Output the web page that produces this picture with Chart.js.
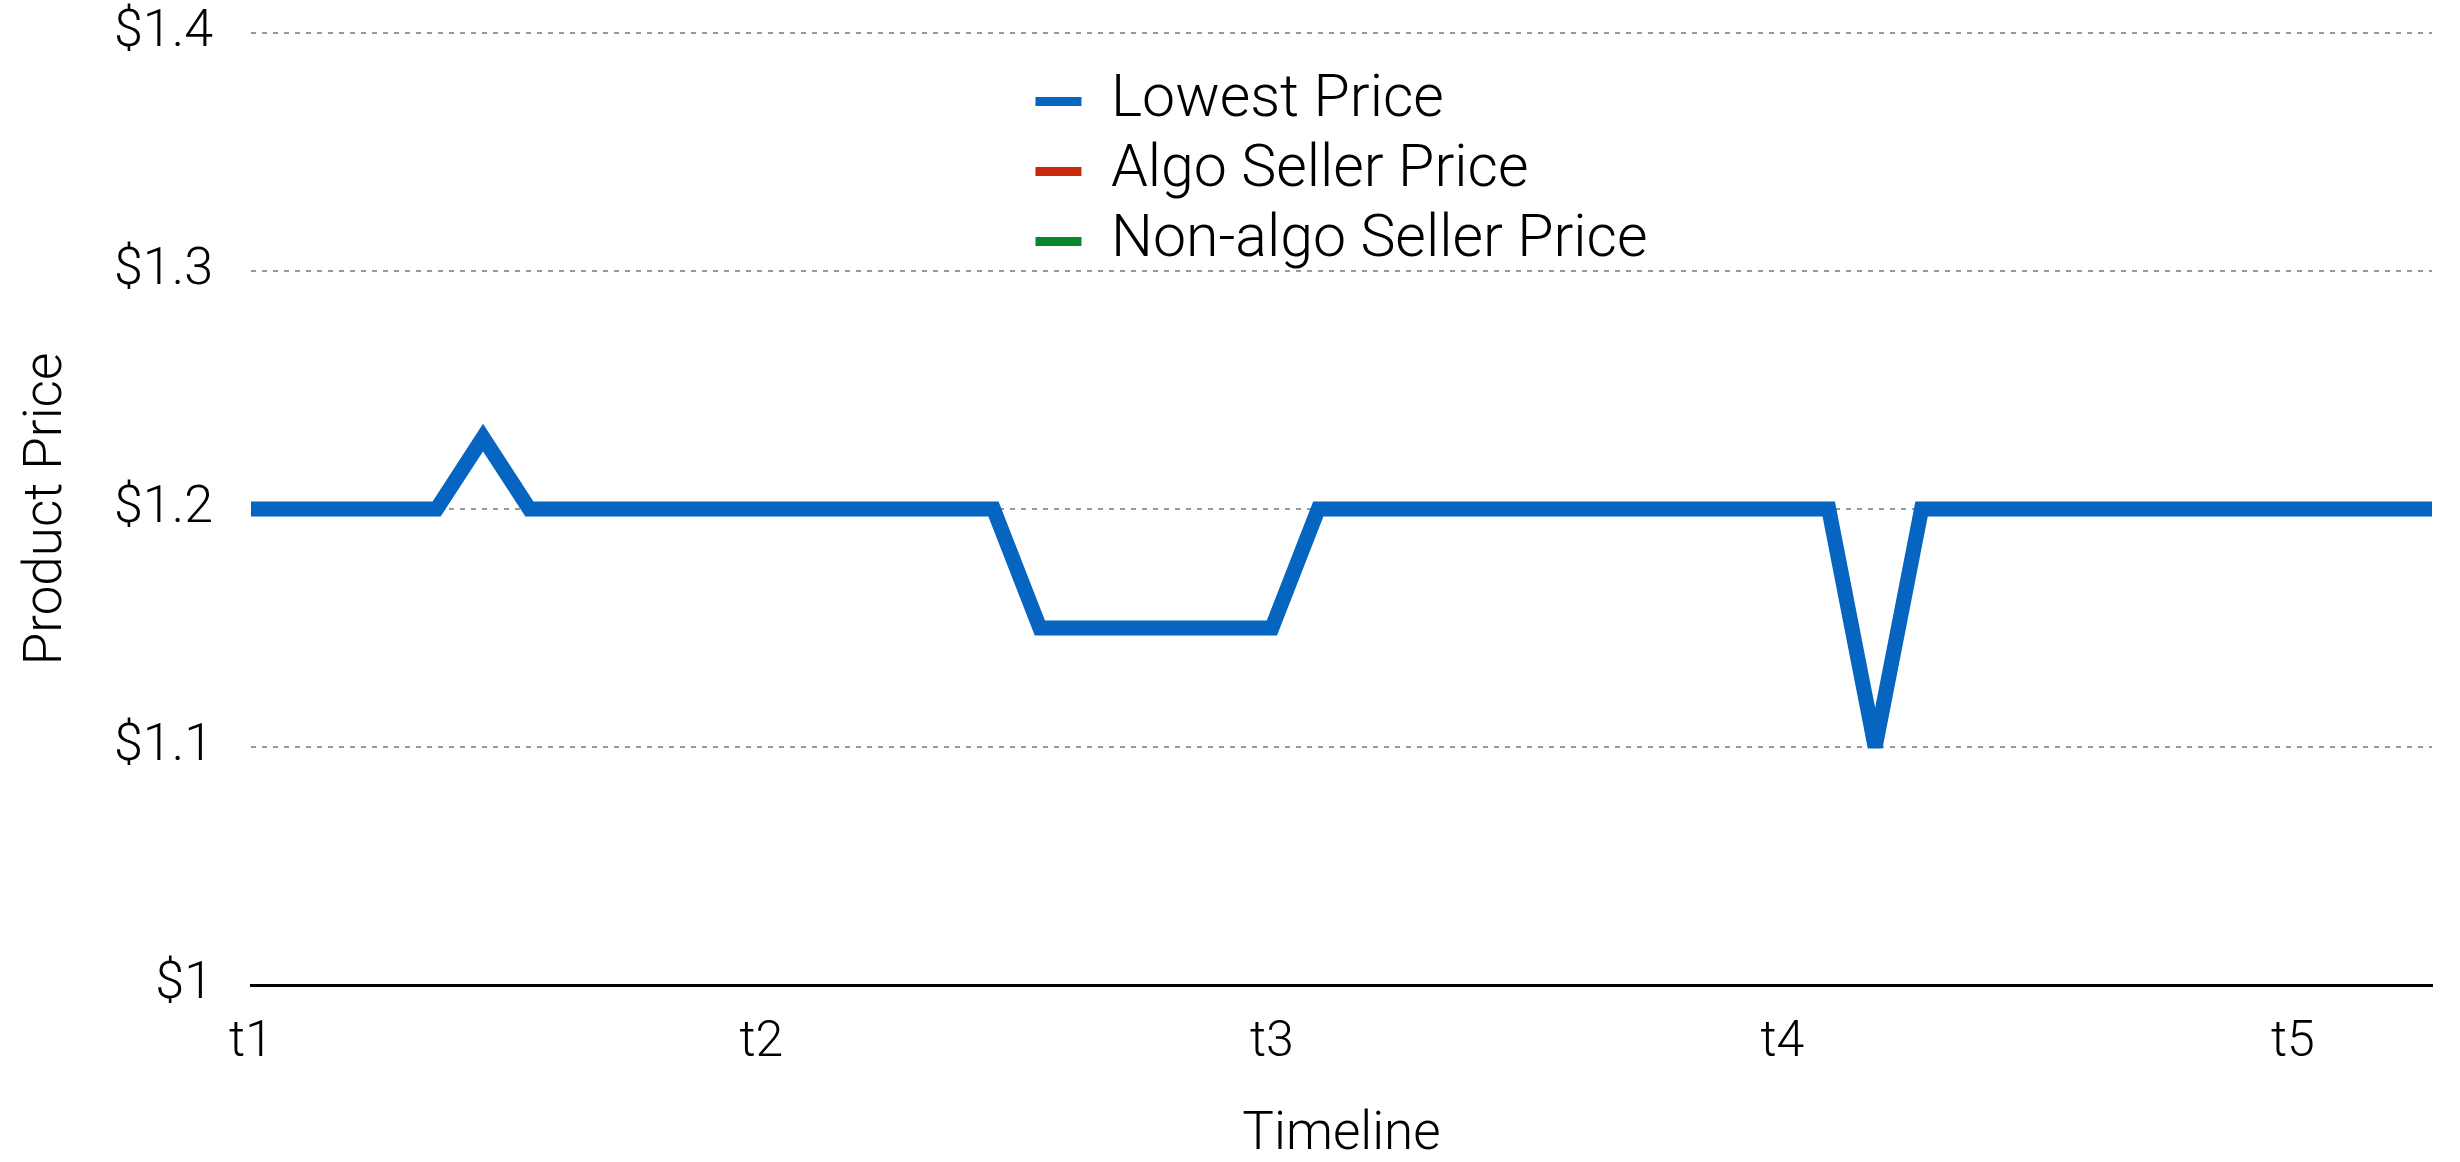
<!DOCTYPE html>
<html>
<head>
<meta charset="utf-8">
<script src="https://cdn.jsdelivr.net/npm/chart.js@4"></script>
<style>
  html, body { margin: 0; padding: 0; background: #fff; }
  #wrap { width: 2460px; height: 1162px; }
</style>
</head>
<body>
<div id="wrap"><canvas id="priceChart"></canvas></div>
<script>
// tick labels on the timeline, one every 11 steps
const tickLabels = ['t1', 't2', 't3', 't4', 't5'];
const stepsPerTick = 11;
const stepCount = 48;

// lowest price at each step
const lowestPrice = [
  1.2, 1.2, 1.2, 1.2, 1.2, 1.23, 1.2, 1.2, 1.2, 1.2, 1.2, 1.2,
  1.2, 1.2, 1.2, 1.2, 1.2, 1.15, 1.15, 1.15, 1.15, 1.15, 1.15, 1.2,
  1.2, 1.2, 1.2, 1.2, 1.2, 1.2, 1.2, 1.2, 1.2, 1.2, 1.2, 1.1,
  1.2, 1.2, 1.2, 1.2, 1.2, 1.2, 1.2, 1.2, 1.2, 1.2, 1.2, 1.2
];
// shown only in the legend
const algoSellerPrice = [];
const nonAlgoSellerPrice = [];

const seriesNames = ['Lowest Price', 'Algo Seller Price', 'Non-algo Seller Price'];
const seriesColors = ['#0565c0', '#c8290c', '#0a872e'];

const yTicks = [1, 1.1, 1.2, 1.3, 1.4];

const categories = [];
for (let i = 0; i < stepCount; i++) {
  categories.push(i % stepsPerTick === 0 ? tickLabels[i / stepsPerTick] : '');
}

const FONT = "Roboto, 'Liberation Sans', sans-serif";

// put the legend inside the plot, centred, items in one column
const legendInPlot = {
  id: 'legendInPlot',
  afterLayout(chart) {
    const lg = chart.legend;
    const ca = chart.chartArea;
    if (!lg || !lg.columnSizes || !lg.columnSizes.length) return;
    const pad = lg.options.labels.padding;
    const colW = lg.columnSizes[0].width;
    const dx = (ca.left + ca.right) / 2 - colW / 2 - pad - lg.left;
    lg.left += dx;
    lg.right += dx;
    lg.top = ca.top + 28;
  }
};

// sharp joins bevel like in the original (svg style miter limit)
const miterLimit = {
  id: 'miterLimit',
  beforeDatasetsDraw(chart) { chart.ctx.miterLimit = 4; },
  afterDatasetsDraw(chart) { chart.ctx.miterLimit = 10; }
};

const ctx = document.getElementById('priceChart').getContext('2d');

const priceChart = new Chart(ctx, {
  type: 'line',
  data: {
    labels: categories,
    datasets: [
      { label: seriesNames[0], data: lowestPrice, borderColor: seriesColors[0], backgroundColor: seriesColors[0] },
      { label: seriesNames[1], data: algoSellerPrice, borderColor: seriesColors[1], backgroundColor: seriesColors[1] },
      { label: seriesNames[2], data: nonAlgoSellerPrice, borderColor: seriesColors[2], backgroundColor: seriesColors[2] }
    ]
  },
  options: {
    responsive: true,
    maintainAspectRatio: false,
    animation: false,
    layout: { padding: { top: 33, right: 14, left: 0, bottom: 0 } },
    elements: {
      line: { borderWidth: 15, tension: 0, borderJoinStyle: 'miter', borderCapStyle: 'butt', fill: false },
      point: { radius: 0, hoverRadius: 0 }
    },
    plugins: {
      tooltip: { enabled: false },
      legend: {
        position: 'chartArea',
        align: 'start',
        labels: {
          color: '#000',
          font: { family: FONT, size: 59, weight: 300 },
          boxWidth: 46,
          boxHeight: 9,
          padding: 11,
          generateLabels(chart) {
            return chart.data.datasets.map((ds, i) => ({
              text: ds.label,
              fillStyle: seriesColors[i],
              strokeStyle: seriesColors[i],
              lineWidth: 0,
              fontColor: '#000',
              datasetIndex: i
            }));
          }
        }
      }
    },
    scales: {
      x: {
        grid: { display: false, drawTicks: false },
        border: { display: true, color: '#000', width: 3 },
        ticks: {
          autoSkip: false,
          maxRotation: 0,
          color: '#000',
          padding: 28,
          font: { family: FONT, size: 50, weight: 300 }
        },
        title: {
          display: true,
          text: 'Timeline',
          color: '#000',
          padding: 0,
          font: { family: FONT, size: 53, weight: 300, lineHeight: 1 }
        },
        afterFit(scale) { scale.height = 177; }
      },
      y: {
        min: 1,
        max: 1.4,
        afterBuildTicks(scale) { scale.ticks = yTicks.map(v => ({ value: v })); },
        grid: {
          drawTicks: false,
          color: '#999',
          lineWidth: 2
        },
        border: { display: false, dash: [5, 6] },
        ticks: {
          color: '#000',
          padding: 38,
          font: { family: FONT, size: 52, weight: 300 },
          callback(value) { return value === 1 ? '$1' : '$' + value.toFixed(1); }
        },
        title: {
          display: true,
          text: 'Product Price',
          color: '#000',
          padding: { top: 16, bottom: 0 },
          font: { family: FONT, size: 53, weight: 300, lineHeight: 1.2 }
        },
        afterFit(scale) {
          scale.width = 251;
          scale.paddingTop = 0;
          scale.paddingBottom = 0;
        }
      }
    }
  },
  plugins: [legendInPlot, miterLimit]
});
</script>
</body>
</html>
